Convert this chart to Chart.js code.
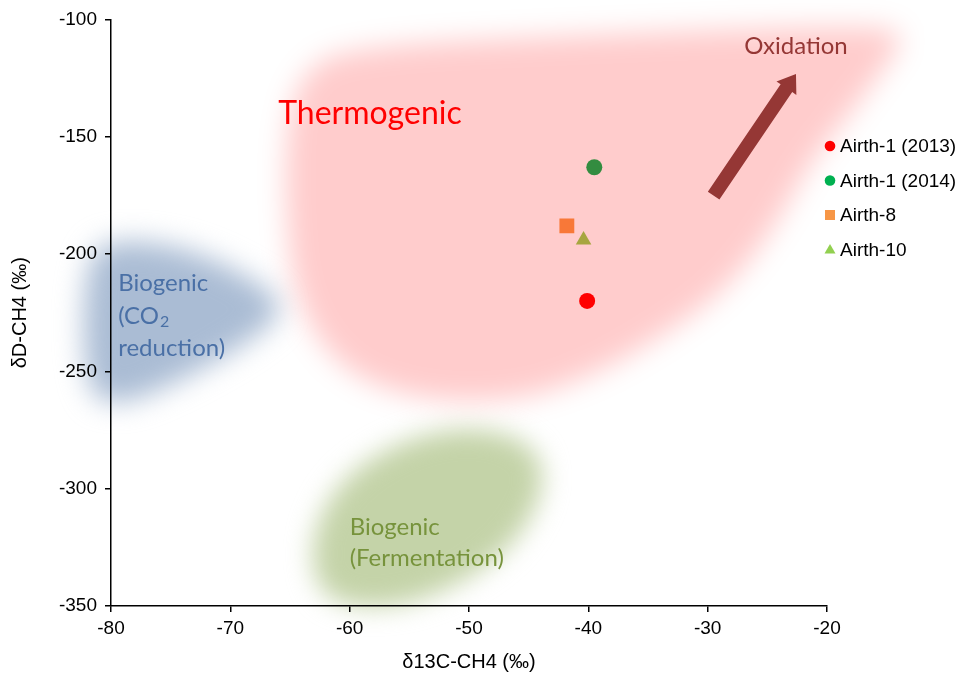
<!DOCTYPE html>
<html>
<head>
<meta charset="utf-8">
<script src="https://cdn.jsdelivr.net/npm/chart.js@4/dist/chart.umd.min.js"></script>
<style>
  html, body { margin: 0; padding: 0; background: #fff; }
  #wrap { width: 966px; height: 679px; }
</style>
</head>
<body>
<div id="wrap"><canvas id="c" width="966" height="679"></canvas></div>
<script>
// Samples: carbon and hydrogen isotope ratios of methane
const sampleNames = ['Airth-1 (2013)', 'Airth-1 (2014)', 'Airth-8', 'Airth-10'];
const d13C = [-40.1, -39.5, -41.8, -40.4];
const dD = [-220, -163, -188, -194];
const markerStyles = ['circle', 'circle', 'rect', 'triangle'];
const markerColors = ['#ff0000', '#00b050', '#f79646', '#92d050'];

// Axis ticks
const xTicks = [-80, -70, -60, -50, -40, -30, -20];
const yTicks = [-350, -300, -250, -200, -150, -100];

// Genetic fields (outlines in δ13C / δD units)
const thermoX = [-64.1, -60.8, -39.0, -15.5, -13.4, -15.5, -18.0, -21.4, -23.9, -26.8, -30.2, -35.2, -39.8, -45.7, -54.1, -60.8, -64.6, -65.4, -65.2];
const thermoY = [-124.6, -111.9, -106.4, -102.1, -107.6, -122.5, -139.5, -160.7, -184.1, -205.3, -222.2, -239.2, -251.9, -262.5, -262.5, -249.8, -220.1, -177.6, -143.7];
const co2X = [-81.8, -79.2, -74.2, -69.2, -65.0, -68.3, -74.2, -79.2, -81.9, -82.4];
const co2Y = [-198.9, -193.8, -196.8, -207.4, -222.2, -237.0, -254.0, -264.6, -260.4, -228.6];
const fermX = [-62.5, -63.4, -60.9, -55.8, -50.0, -44.9, -43.4, -45.8, -50.8, -56.7];
const fermY = [-347.5, -322.0, -296.5, -279.5, -273.2, -279.5, -296.5, -322.0, -341.1, -351.7];

// Oxidation trend arrow (start, end)
const oxidX = [-29.5, -22.6];
const oxidY = [-175.1, -123.3];

const TICK_FONT = { family: 'Liberation Sans, Arial, sans-serif', size: 19 };
const TITLE_FONT = { family: 'Liberation Sans, Arial, sans-serif', size: 20 };
const NOTE_FONT = 'Lato, "Open Sans", sans-serif';

function smoothClosedPath(ctx, pts) {
  const n = pts.length;
  const mid = (a, b) => [(a[0] + b[0]) / 2, (a[1] + b[1]) / 2];
  const m = mid(pts[n - 1], pts[0]);
  ctx.beginPath();
  ctx.moveTo(m[0], m[1]);
  for (let i = 0; i < n; i++) {
    const p = pts[i];
    const q = mid(p, pts[(i + 1) % n]);
    ctx.quadraticCurveTo(p[0], p[1], q[0], q[1]);
  }
  ctx.closePath();
}

function fillField(chart, xs, ys, color, blur) {
  const { ctx, scales: { x, y } } = chart;
  const pts = xs.map((v, i) => [x.getPixelForValue(v), y.getPixelForValue(ys[i])]);
  ctx.save();
  ctx.filter = 'blur(' + blur + 'px)';
  ctx.fillStyle = color;
  smoothClosedPath(ctx, pts);
  ctx.fill();
  ctx.restore();
}

const fieldsPlugin = {
  id: 'fields',
  beforeDraw(chart) {
    const ctx = chart.ctx;
    ctx.save();
    ctx.fillStyle = '#ffffff';
    ctx.fillRect(0, 0, chart.width, chart.height);
    ctx.restore();
    fillField(chart, co2X, co2Y, 'rgb(170,188,212)', 14);
    fillField(chart, fermX, fermY, 'rgb(196,211,168)', 13);
  },
  afterDatasetsDraw(chart) {
    fillField(chart, thermoX, thermoY, 'rgba(255,0,0,0.2)', 14);
    const { ctx, scales: { x, y } } = chart;

    // oxidation arrow
    const x0 = x.getPixelForValue(oxidX[0]), y0 = y.getPixelForValue(oxidY[0]);
    const x1 = x.getPixelForValue(oxidX[1]), y1 = y.getPixelForValue(oxidY[1]);
    const ang = Math.atan2(y1 - y0, x1 - x0);
    const len = Math.hypot(x1 - x0, y1 - y0);
    const headLen = 17, headHalf = 12, shaftHalf = 7;
    ctx.save();
    ctx.translate(x0, y0);
    ctx.rotate(ang);
    ctx.fillStyle = '#953735';
    ctx.beginPath();
    ctx.moveTo(0, -shaftHalf);
    ctx.lineTo(len - headLen, -shaftHalf);
    ctx.lineTo(len - headLen, -headHalf);
    ctx.lineTo(len, 0);
    ctx.lineTo(len - headLen, headHalf);
    ctx.lineTo(len - headLen, shaftHalf);
    ctx.lineTo(0, shaftHalf);
    ctx.closePath();
    ctx.fill();
    ctx.restore();

    // field names
    ctx.save();
    ctx.textBaseline = 'middle';
    ctx.textAlign = 'center';
    ctx.fillStyle = '#ff0000';
    ctx.font = '32px ' + NOTE_FONT;
    ctx.fillText('Thermogenic', x.getPixelForValue(-58.3), y.getPixelForValue(-140.3));
    ctx.fillStyle = '#953735';
    ctx.font = '24px ' + NOTE_FONT;
    ctx.fillText('Oxidation', x.getPixelForValue(-22.6), y.getPixelForValue(-111.5));

    ctx.textAlign = 'left';
    ctx.fillStyle = '#4a70a6';
    const bx = x.getPixelForValue(-79.4);
    ctx.fillText('Biogenic', bx, y.getPixelForValue(-212.4));
    const ly = y.getPixelForValue(-226.4);
    ctx.fillText('(CO', bx, ly);
    const w = ctx.measureText('(CO').width;
    ctx.font = '16px ' + NOTE_FONT;
    ctx.fillText('2', bx + w + 1, ly + 6);
    ctx.font = '24px ' + NOTE_FONT;
    ctx.fillText('reduction)', bx, y.getPixelForValue(-240.0));

    ctx.fillStyle = '#77933c';
    const fx = x.getPixelForValue(-60.0);
    ctx.fillText('Biogenic', fx, y.getPixelForValue(-316.4));
    ctx.fillText('(Fermentation)', fx, y.getPixelForValue(-329.5));
    ctx.restore();
  },
  afterDraw(chart) {
    // legend
    const ctx = chart.ctx;
    const area = chart.chartArea;
    const mx = area.right + 3;
    const top = 146, step = 34.5;
    ctx.save();
    ctx.font = TICK_FONT.size + 'px ' + TICK_FONT.family;
    ctx.textBaseline = 'middle';
    ctx.textAlign = 'left';
    sampleNames.forEach((name, i) => {
      const cy = top + i * step;
      ctx.fillStyle = markerColors[i];
      const style = markerStyles[i];
      if (style === 'circle') {
        ctx.beginPath();
        ctx.arc(mx, cy, 5.3, 0, Math.PI * 2);
        ctx.fill();
      } else if (style === 'rect') {
        ctx.fillRect(mx - 5, cy - 5, 10, 10);
      } else {
        ctx.beginPath();
        ctx.moveTo(mx, cy - 5.5);
        ctx.lineTo(mx + 5.5, cy + 4);
        ctx.lineTo(mx - 5.5, cy + 4);
        ctx.closePath();
        ctx.fill();
      }
      ctx.fillStyle = '#000';
      ctx.fillText(name, mx + 10, cy + 1);
    });
    ctx.restore();
  }
};

const datasets = sampleNames.map((name, i) => ({
  label: name,
  data: [{ x: d13C[i], y: dD[i] }],
  pointStyle: markerStyles[i],
  pointRadius: markerStyles[i] === 'rect' ? 10.5 : (markerStyles[i] === 'triangle' ? 9 : 8),
  pointHoverRadius: 8,
  backgroundColor: markerColors[i],
  borderColor: markerColors[i],
  borderWidth: 0,
  showLine: false
}));

new Chart(document.getElementById('c'), {
  type: 'scatter',
  data: { datasets },
  options: {
    responsive: false,
    animation: false,
    events: [],
    layout: { padding: { left: 0, top: 17, right: 139, bottom: 0 } },
    plugins: {
      legend: { display: false },
      tooltip: { enabled: false }
    },
    scales: {
      x: {
        type: 'linear',
        min: xTicks[0],
        max: xTicks[xTicks.length - 1],
        afterBuildTicks(scale) { scale.ticks = xTicks.map(v => ({ value: v })); },
        afterFit(scale) { scale.height = 73; },
        border: { display: true, color: '#000', width: 1.5 },
        grid: { drawOnChartArea: false, drawTicks: true, tickLength: 6, color: '#000', lineWidth: 1.5 },
        ticks: { color: '#000', font: TICK_FONT, padding: 5 },
        title: {
          display: true,
          text: 'δ13C-CH4 (‰)',
          color: '#000',
          font: TITLE_FONT,
          padding: { top: 0, bottom: 5 }
        }
      },
      y: {
        type: 'linear',
        min: yTicks[0],
        max: yTicks[yTicks.length - 1],
        afterBuildTicks(scale) { scale.ticks = yTicks.map(v => ({ value: v })); },
        afterFit(scale) { scale.width = 111; },
        border: { display: true, color: '#000', width: 1.5 },
        grid: { drawOnChartArea: false, drawTicks: true, tickLength: 6, color: '#000', lineWidth: 1.5 },
        ticks: { color: '#000', font: TICK_FONT, padding: 8 },
        title: {
          display: true,
          text: 'δD-CH4 (‰)',
          color: '#000',
          font: TITLE_FONT,
          padding: { top: 8, bottom: 0 }
        }
      }
    }
  },
  plugins: [fieldsPlugin]
});
</script>
</body>
</html>
